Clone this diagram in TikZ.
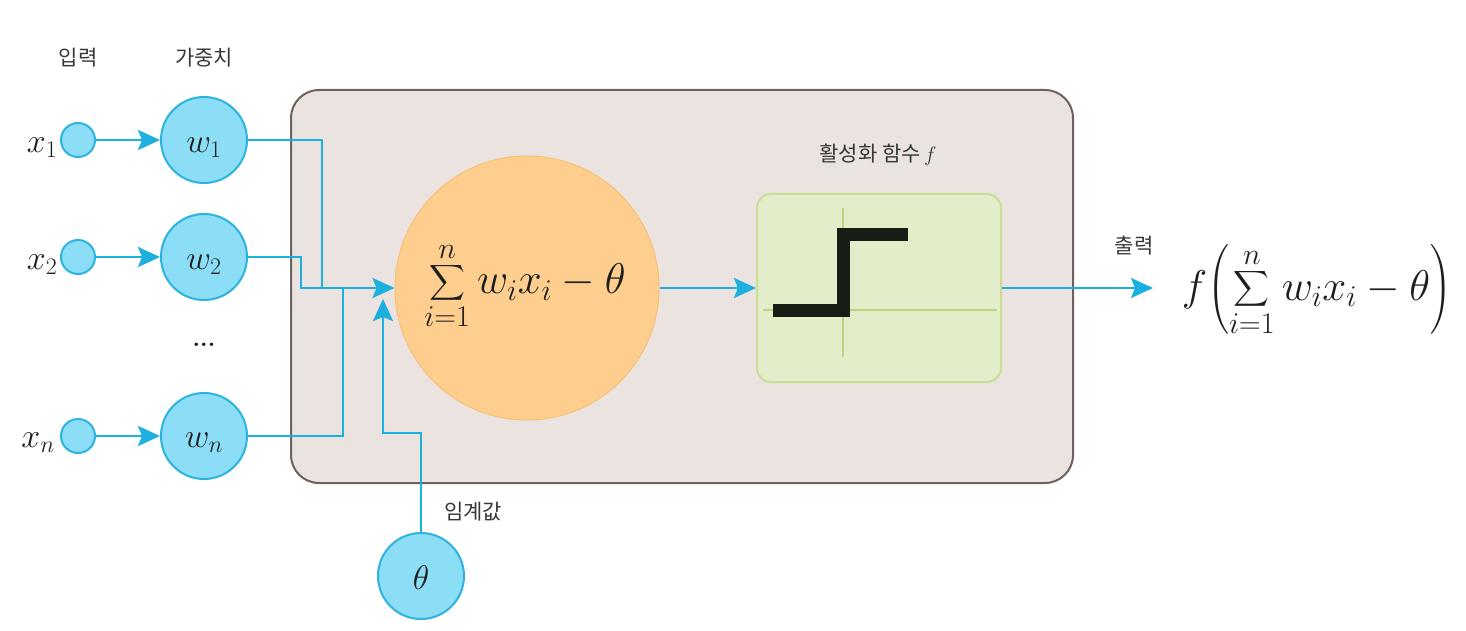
\RequirePackage{fix-cm}
\documentclass[tikz,border=0pt]{standalone}
\usepackage{exscale}
\usepackage{fontspec}
\newfontfamily\kr{Noto Sans CJK KR}
\usetikzlibrary{arrows.meta,calc}
\definecolor{cyanline}{RGB}{27,176,221}
\definecolor{cyanedge}{RGB}{45,180,222}
\definecolor{cyanfill}{RGB}{140,221,246}
\definecolor{boxfill}{RGB}{234,227,223}
\definecolor{boxedge}{RGB}{110,98,94}
\definecolor{orfill}{RGB}{253,206,142}
\definecolor{oredge}{RGB}{250,192,115}
\definecolor{grfill}{RGB}{226,237,201}
\definecolor{gredge}{RGB}{200,222,150}
\definecolor{graxis}{RGB}{190,210,130}
\definecolor{stepcol}{RGB}{20,30,20}
\definecolor{txt}{RGB}{55,55,55}
\definecolor{mtxt}{RGB}{30,30,30}
\begin{document}
\begin{tikzpicture}[x=1pt,y=-1pt,
  blueline/.style={draw=cyanline, line width=2.5pt},
  arr/.style={blueline, -{Stealth[length=22pt,width=20pt,inset=4pt]}},
  smallc/.style={circle, draw=cyanedge, fill=cyanfill, line width=2pt, minimum size=34pt, inner sep=0pt},
  bigc/.style={circle, draw=cyanedge, fill=cyanfill, line width=2pt, minimum size=86pt, inner sep=0pt},
  krlab/.style={font=\kr\fontsize{21}{24}\selectfont, text=txt, inner sep=0pt},
  mlab/.style={font=\fontsize{34}{40}\selectfont, text=mtxt, inner sep=0pt},
  mbig/.style={font=\fontsize{43}{50}\selectfont, text=mtxt, inner sep=0pt},
  axisline/.style={draw=graxis, line width=1.5pt},
  stepline/.style={draw=stepcol, line width=13pt, line join=miter}
]
\useasboundingbox (0,0) rectangle (1466,631);
\fill[white] (0,0) rectangle (1466,631);

% main box
\node[rectangle, rounded corners=28pt, draw=boxedge, fill=boxfill, line width=2pt,
      minimum width=782pt, minimum height=393pt, inner sep=0pt] (box) at (682,286.5) {};

% headers
\node[krlab] (hin) at (78,58) {입력};
\node[krlab] (hw) at (204,58) {가중치};

% inputs
\node[smallc] (x1) at (78,140) {};
\node[smallc] (x2) at (78,257) {};
\node[smallc] (xn) at (78,436) {};
\node[mlab] (lx1) at (42,148) {$x_1$};
\node[mlab] (lx2) at (42,265) {$x_2$};
\node[mlab] (lxn) at (38,443) {$x_n$};

% weights
\node[bigc] (w1) at (204,140) {};
\node[bigc] (w2) at (204,257) {};
\node[bigc] (wn) at (204,436) {};
\node[mlab] (lw1) at (204,148) {$w_1$};
\node[mlab] (lw2) at (204,265) {$w_2$};
\node[mlab] (lwn) at (204,443) {$w_n$};
\node[font=\bfseries\fontsize{24}{26}\selectfont, text=mtxt, inner sep=0pt] (dots) at (204,345) {...};

\draw[arr] (x1) -- (w1);
\draw[arr] (x2) -- (w2);
\draw[arr] (xn) -- (wn);

% threshold
\node[bigc] (theta) at (421,576) {};
\node[mlab] (ltheta) at (421,578) {$\theta$};
\node[krlab] (hth) at (473,512) {임계값};

% summation
\node[circle, draw=oredge, fill=orfill, line width=1pt, minimum size=264pt, inner sep=0pt] (sum) at (527,288) {};
\node[mbig] (sumtxt) at (525,286) {$\displaystyle\sum_{i=1}^{n} w_i x_i - \theta$};

\coordinate (j1) at (322,288);
\coordinate (j2) at (301,288);
\coordinate (jn) at (343,288);
\coordinate (tb) at (383,433);
\coordinate (tin) at (383,299);

\draw[blueline] (w1.east) -| (j1);
\draw[blueline] (wn.east) -| (jn);
\draw[arr] (w2.east) -| (j2) -- (sum.west);
\draw[arr] (theta.north) |- (tb) -- (tin);

% activation
\node[krlab] (hact) at (878,155) {활성화 함수\,$f$};
\node[rectangle, rounded corners=14pt, draw=gredge, fill=grfill, line width=2pt,
      minimum width=244pt, minimum height=188pt, inner sep=0pt] (act) at (879,288) {};
\draw[axisline] (843,208) -- (843,357);
\draw[axisline] (763,310) -- (997,310);
\draw[stepline] (773,310) -- (843,310) -- (843,234) -- (908,234);

\draw[arr] (sum.east) -- (act.west);

% output
\coordinate (outtip) at (1153,288);
\draw[arr] (act.east) -- (outtip);
\node[krlab] (hout) at (1134,246) {출력};
\node[mbig] (out) at (1317,290) {$\displaystyle f\!\left(\sum_{i=1}^{n} w_i x_i - \theta\right)$};
\end{tikzpicture}
\end{document}
